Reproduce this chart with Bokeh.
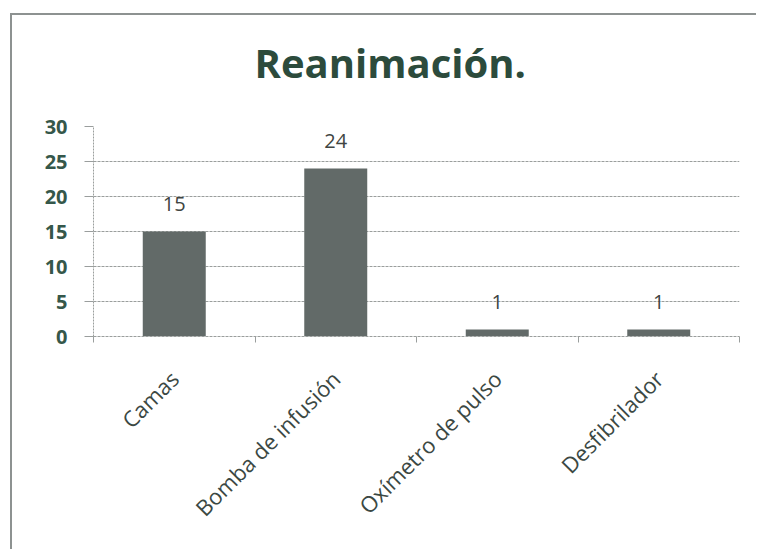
from math import pi

from bokeh.plotting import figure
from bokeh.models import Range1d, FixedTicker, ColumnDataSource, LabelSet, Title
from bokeh.core.properties import value
from bokeh.embed import file_html
from bokeh.resources import INLINE

# Equipment counts in the resuscitation room
categories = ["Camas", "Bomba de infusión", "Oxímetro de pulso", "Desfibrilador"]
counts = [15, 24, 1, 1]
y_ticks = [0, 5, 10, 15, 20, 25, 30]
title = "Reanimación."

centers = [i + 0.5 for i in range(len(categories))]
bounds = list(range(len(categories) + 1))

src = ColumnDataSource(dict(x=centers, top=counts,
                            label=[str(c) for c in counts]))

FONT = "Open Sans"
GRID = "#9a9e9d"

p = figure(width=746, height=536, output_backend="svg", toolbar_location=None,
           x_range=Range1d(0, len(categories)), y_range=Range1d(0, y_ticks[-1]),
           min_border_left=81, min_border_right=19, min_border_top=111,
           min_border_bottom=215, background_fill_color="white",
           border_fill_color="white", outline_line_color=None)

# chart area border (left and top edges)
p.styles = {"margin-left": "10px", "margin-top": "13px",
            "border-width": "2px 0px 0px 2px", "border-style": "solid",
            "border-color": "#8d9291"}

p.title.text = title
p.title.text_font = FONT
p.title.text_font_size = "40px"
p.title.text_font_style = "bold"
p.title.text_color = "#2c4b3c"
p.title.align = "left"
p.title.offset = 161
p.title.standoff = 10

# blank band between the title and the plot area
p.add_layout(Title(text=" ", text_font_size="1px", standoff=29), "above")

p.vbar(x="x", top="top", width=0.39, bottom=0, source=src,
       fill_color="#626a68", line_color=None)

p.add_layout(LabelSet(x="x", y="top", text="label", source=src,
                      text_align="center", text_baseline="bottom", y_offset=21,
                      text_font=value(FONT), text_font_size="20px",
                      text_color="#404542"))

# y axis
p.yaxis.ticker = FixedTicker(ticks=y_ticks, minor_ticks=[])
p.yaxis.major_label_text_font = FONT
p.yaxis.major_label_text_font_size = "20px"
p.yaxis.major_label_text_font_style = "bold"
p.yaxis.major_label_text_color = "#35574a"
p.yaxis.major_label_standoff = 17
p.yaxis.axis_line_color = GRID
p.yaxis.axis_line_dash = "2 1"
p.yaxis.major_tick_line_color = GRID
p.yaxis.major_tick_in = 0
p.yaxis.major_tick_out = 9

# x axis: labels at category centres, ticks on category boundaries
p.xaxis.ticker = FixedTicker(ticks=centers, minor_ticks=bounds)
p.xaxis.major_label_overrides = {c: name for c, name in zip(centers, categories)}
p.xaxis.major_label_orientation = pi / 4
p.xaxis.major_label_text_font = FONT
p.xaxis.major_label_text_font_size = "22px"
p.xaxis.major_label_text_color = "#3b4843"
p.xaxis.major_label_standoff = 32
p.xaxis.major_tick_line_color = None
p.xaxis.minor_tick_line_color = GRID
p.xaxis.minor_tick_in = 0
p.xaxis.minor_tick_out = 6
p.xaxis.axis_line_color = GRID
p.xaxis.axis_line_dash = "3 1"

p.xgrid.visible = False
p.ygrid.grid_line_color = GRID
p.ygrid.grid_line_dash = "3 1"
p.ygrid.grid_line_width = 1

open("out.html", "w").write(file_html(p, INLINE))
